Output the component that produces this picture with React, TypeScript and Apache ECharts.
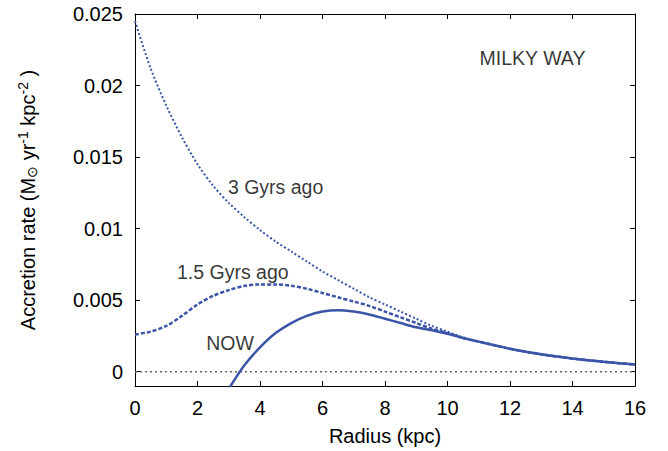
import React, { useEffect, useRef } from "react";
import * as echarts from "echarts";

const FONT = "'Liberation Sans', Arial, Helvetica, sans-serif";
const BLUE = "#3a55a8";

const radii = [0, 0.5, 1, 1.5, 2, 2.5, 3, 3.5, 4, 4.5, 5, 5.5, 6, 6.5, 7, 7.5, 8, 8.5, 9, 9.5, 10, 10.5, 11, 11.5, 12, 12.5, 13, 13.5, 14, 14.5, 15, 15.5, 16];
const gyr3Ago = [0.0245, 0.0212, 0.0186, 0.0164, 0.0145, 0.0130, 0.0118, 0.0108, 0.0099, 0.0091, 0.0084, 0.0077, 0.0070, 0.0064, 0.0058, 0.0052, 0.0047, 0.0042, 0.0037, 0.0032, 0.0028, 0.0024, 0.0021, 0.00185, 0.0016, 0.0014, 0.00122, 0.00106, 0.00092, 0.0008, 0.00069, 0.00059, 0.0005];
const gyr15Ago = [0.0026, 0.0028, 0.0032, 0.0039, 0.0047, 0.0053, 0.0057, 0.0060, 0.0061, 0.0061, 0.0060, 0.0058, 0.0055, 0.0052, 0.0049, 0.0046, 0.0042, 0.0038, 0.0034, 0.0030, 0.0027, 0.00236, 0.0021, 0.00185, 0.0016, 0.0014, 0.00122, 0.00106, 0.00092, 0.0008, 0.00069, 0.00059, 0.0005];
const nowRadii = [3, 3.5, 4, 4.5, 5, 5.5, 6, 6.5, 7, 7.5, 8, 8.5, 9, 9.5, 10, 10.5, 11, 11.5, 12, 12.5, 13, 13.5, 14, 14.5, 15, 15.5, 16];
const nowValues = [-0.0012, 0.00045, 0.0017, 0.0027, 0.0034, 0.0039, 0.0042, 0.0043, 0.0042, 0.0040, 0.0037, 0.0034, 0.0031, 0.0029, 0.00265, 0.00235, 0.0021, 0.00185, 0.0016, 0.0014, 0.00122, 0.00106, 0.00092, 0.0008, 0.00069, 0.00059, 0.0005];
const zeroLine = [[0, 0], [16, 0]];

const labelTexts = ["3 Gyrs ago", "1.5 Gyrs ago", "NOW", "MILKY WAY"];
const labelPositions = [[4.5, 0.0129], [3.13, 0.0070], [3.04, 0.0020], [12.72, 0.0219]];

const xTicks = ["0", "2", "4", "6", "8", "10", "12", "14", "16"];
const yTickValues = [0, 0.005, 0.01, 0.015, 0.02, 0.025];

export default function App() {
  const ref = useRef<HTMLDivElement>(null);
  useEffect(() => {
    if (!ref.current) return;
    const chart = echarts.init(ref.current, null, { renderer: "svg" });
    const pair = (xs: number[], ys: number[]) => xs.map((x, i) => [x, ys[i]]);
    const axisCommon = {
      type: "value" as const,
      axisLine: { show: true, onZero: false, lineStyle: { color: "#000", width: 1 } },
      axisTick: { show: true, inside: true, length: 5, lineStyle: { color: "#000" } },
      splitLine: { show: false },
    };
    chart.setOption({
      animation: false,
      backgroundColor: "#fff",
      textStyle: { fontFamily: FONT },
      grid: { left: 135, right: 33, top: 14, bottom: 64 },
      xAxis: [
        {
          ...axisCommon,
          min: 0,
          max: 16,
          interval: 2,
          name: "Radius (kpc)",
          nameLocation: "middle",
          nameGap: 40,
          nameTextStyle: { fontSize: 20, color: "#000", fontFamily: FONT },
          axisLabel: {
            fontSize: 20,
            color: "#000",
            fontFamily: FONT,
            margin: 12,
            formatter: (v: number) => xTicks[Math.round(v / 2)] ?? String(v),
          },
        },
        {
          ...axisCommon,
          position: "top",
          min: 0,
          max: 16,
          interval: 2,
          axisLabel: { show: false },
        },
      ],
      yAxis: [
        {
          ...axisCommon,
          min: -0.001,
          max: 0.025,
          interval: 0.005,
          axisTick: { ...axisCommon.axisTick, customValues: yTickValues },
          axisLabel: {
            fontSize: 20,
            color: "#000",
            fontFamily: FONT,
            margin: 12,
            customValues: yTickValues,
            formatter: (v: number) => String(Math.round(v * 1000) / 1000),
          },
          name: "Accretion rate (M{sub|⊙} yr{sup|-1} kpc{sup|-2} )",
          nameLocation: "middle",
          nameGap: 96,
          nameRotate: 90,
          nameTextStyle: {
            fontSize: 20,
            color: "#000",
            fontFamily: FONT,
            rich: {
              sub: { fontSize: 14, color: "#000", fontFamily: FONT, padding: [9, 0, 0, 0] },
              sup: { fontSize: 14, color: "#000", fontFamily: FONT, padding: [0, 0, 9, 0] },
            },
          },
        },
        {
          ...axisCommon,
          position: "right",
          min: -0.001,
          max: 0.025,
          interval: 0.005,
          axisTick: { ...axisCommon.axisTick, customValues: yTickValues },
          axisLabel: { show: false },
        },
      ],
      series: [
        {
          type: "line",
          data: zeroLine,
          showSymbol: false,
          silent: true,
          lineStyle: { color: "#666", width: 1.4, type: [2, 3] },
        },
        {
          type: "line",
          name: "3 Gyrs ago",
          data: pair(radii, gyr3Ago),
          smooth: 0.3,
          showSymbol: false,
          lineStyle: { color: BLUE, width: 2, type: [2, 2.2] },
        },
        {
          type: "line",
          name: "1.5 Gyrs ago",
          data: pair(radii, gyr15Ago),
          smooth: 0.3,
          showSymbol: false,
          lineStyle: { color: BLUE, width: 2.5, type: [4, 2] },
        },
        {
          type: "line",
          name: "NOW",
          data: pair(nowRadii, nowValues),
          smooth: 0.3,
          showSymbol: false,
          lineStyle: { color: BLUE, width: 2.5 },
        },
        {
          type: "scatter",
          symbolSize: 0,
          silent: true,
          data: labelTexts.map((t, i) => ({ name: t, value: labelPositions[i] })),
          label: {
            show: true,
            position: "inside",
            formatter: (p: any) => p.name,
            fontSize: 19.5,
            color: "#000",
            fontFamily: FONT,
          },
        },
      ],
    });
    return () => chart.dispose();
  }, []);
  return (
    <div
      ref={ref}
      style={{ position: "absolute", left: 0, top: 0, width: 668, height: 451 }}
    />
  );
}
